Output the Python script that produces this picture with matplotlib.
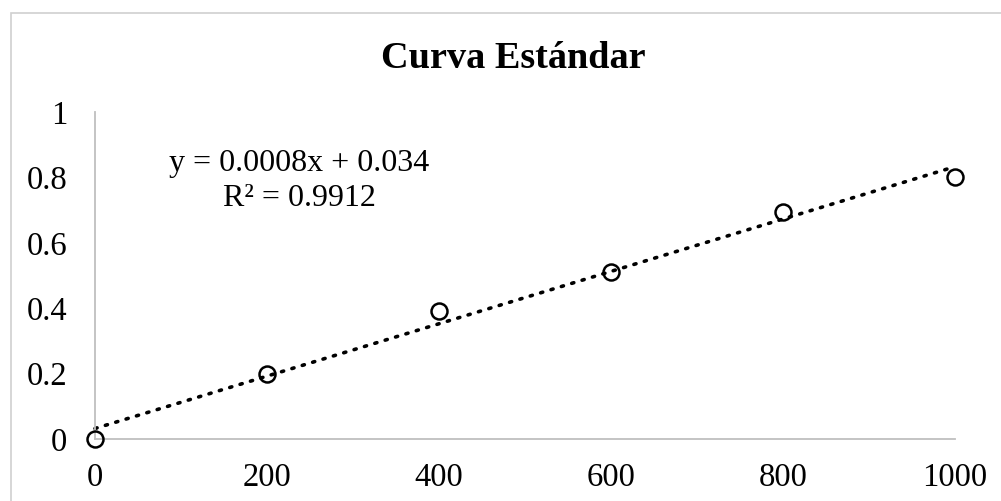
import numpy as np
import matplotlib
matplotlib.use("Agg")
import matplotlib.pyplot as plt
from matplotlib.patches import Rectangle

# Data
concentracion = [0, 200, 400, 600, 800, 1000]
absorbancia = [0.0, 0.20, 0.39, 0.51, 0.695, 0.80]
x_ticks = [0, 200, 400, 600, 800, 1000]
y_ticks = [0, 0.2, 0.4, 0.6, 0.8, 1]
y_tick_labels = ["0", "0.2", "0.4", "0.6", "0.8", "1"]
titulo = "Curva Estándar"
ecuacion = "y = 0.0008x + 0.034"
r2_texto = "R² = 0.9912"

plt.rcParams['font.family'] = ['Liberation Serif', 'DejaVu Serif']

W, H = 1001, 501
fig = plt.figure(figsize=(W / 100, H / 100), dpi=100)
fig.patch.set_facecolor('white')

# chart frame
fig.patches.append(Rectangle((10.5 / W, -0.05), 1.2, (H - 12.5) / H + 0.05,
                             transform=fig.transFigure, fill=False,
                             edgecolor='#d0d0d0', linewidth=1.2, zorder=0))

ax = fig.add_axes([95 / W, (H - 439) / H, (955 - 95) / W, (439 - 112) / H])
ax.set_facecolor('none')
ax.set_xlim(0, 1000)
ax.set_ylim(0, 1)

for s in ['top', 'right']:
    ax.spines[s].set_visible(False)
for s in ['left', 'bottom']:
    ax.spines[s].set_color('#bfbfbf')
    ax.spines[s].set_linewidth(1.3)

ax.set_xticks(x_ticks)
ax.set_xticklabels([str(v) for v in x_ticks])
ax.set_yticks(y_ticks)
ax.set_yticklabels(y_tick_labels)
ax.tick_params(axis='both', length=0, labelsize=23.5, colors='black')
ax.tick_params(axis='x', pad=17)
ax.tick_params(axis='y', pad=20)

# trendline
coef = np.polyfit(concentracion, absorbancia, 1)
xs = np.array([0, 1000])
ax.plot(xs, np.polyval(coef, xs), linestyle=(0, (0.6, 2.4)), color='black',
        linewidth=2.6, dash_capstyle='round', clip_on=False, zorder=2)

# points
ax.plot(concentracion, absorbancia, linestyle='none', marker='o', markersize=11.5,
        markerfacecolor='none', markeredgecolor='black', markeredgewidth=1.8,
        clip_on=False, zorder=3)

# equation
ax.text(299 / W, (H - 163) / H, ecuacion, transform=fig.transFigure,
        ha='center', va='center', fontsize=23)
ax.text(299 / W, (H - 198) / H, r2_texto, transform=fig.transFigure,
        ha='center', va='center', fontsize=23)

fig.text(513 / W, (H - 58) / H, titulo, ha='center', va='center',
         fontsize=27.5, fontweight='bold')

fig.savefig('out.png', dpi=100)
